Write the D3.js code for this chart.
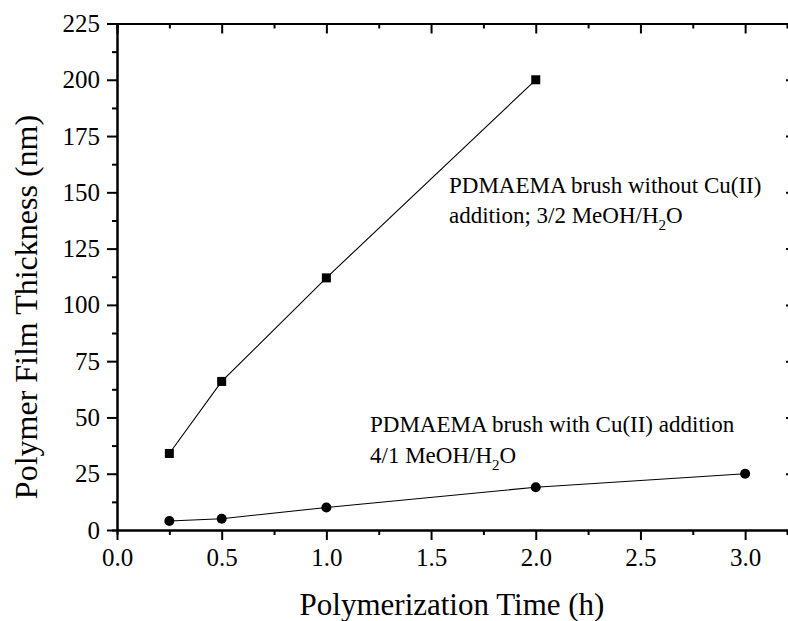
<!DOCTYPE html>
<html>
<head>
<meta charset="utf-8">
<script src="https://cdn.jsdelivr.net/npm/d3@7"></script>
<style>
  body { margin: 0; background: #fff; }
  svg { display: block; font-family: "Liberation Serif", "Times New Roman", serif; }
</style>
</head>
<body>
<div id="chart"></div>
<script>
// values
const timeNoCu = [0.25, 0.5, 1.0, 2.0]
const thickNoCu = [34, 66, 112, 200]
const timeCu = [0.25, 0.5, 1.0, 2.0, 3.0]
const thickCu = [4, 5, 10, 19, 25]
const xTicks = [0, 0.5, 1.0, 1.5, 2.0, 2.5, 3.0]
const yTicks = [0, 25, 50, 75, 100, 125, 150, 175, 200, 225]
const xMinor = [0.25, 0.75, 1.25, 1.75, 2.25, 2.75]
const yMinor = [12.5, 37.5, 62.5, 87.5, 112.5, 137.5, 162.5, 187.5, 212.5]

class ThicknessChart {

  constructor(_parentElement) {
    this.parentElement = _parentElement
    this.initVis()
  }

  initVis() {
    const vis = this
    vis.WIDTH = 788
    vis.HEIGHT = 621
    vis.LEFT = 117
    vis.RIGHT = 787
    vis.TOP = 23.5
    vis.BOTTOM = 530

    vis.svg = d3.select(vis.parentElement).append('svg')
      .attr('width', vis.WIDTH)
      .attr('height', vis.HEIGHT)

    vis.x = d3.scaleLinear().domain([0, 3.2]).range([vis.LEFT, vis.RIGHT])
    vis.y = d3.scaleLinear().domain([0, 225]).range([vis.BOTTOM, vis.TOP])

    vis.drawAxes()
    vis.drawSeries()
    vis.drawLabels()
  }

  styleAxis(g) {
    g.attr('font-family', null)
    g.selectAll('path.domain').attr('stroke', '#000').attr('stroke-width', 2)
    g.selectAll('.tick line').attr('stroke', '#000').attr('stroke-width', 2)
    g.selectAll('.tick text').attr('fill', '#000').style('font-size', '25px')
      .style('font-family', '"Liberation Serif", serif')
  }

  drawAxes() {
    const vis = this
    const fmtX = d3.format('.1f')

    // minor ticks first so the majors sit on top
    vis.svg.append('g').attr('transform', `translate(0, ${vis.BOTTOM})`)
      .call(d3.axisBottom(vis.x).tickValues(xMinor).tickSize(5).tickFormat(''))
      .call(g => vis.styleAxis(g))
    vis.svg.append('g').attr('transform', `translate(${vis.LEFT}, 0)`)
      .call(d3.axisLeft(vis.y).tickValues(yMinor).tickSize(5).tickFormat(''))
      .call(g => vis.styleAxis(g))
    vis.svg.append('g').attr('transform', `translate(0, ${vis.TOP})`)
      .call(d3.axisBottom(vis.x).tickValues(xMinor).tickSize(5).tickFormat(''))
      .call(g => vis.styleAxis(g))

    // bottom
    vis.svg.append('g').attr('transform', `translate(0, ${vis.BOTTOM})`)
      .call(d3.axisBottom(vis.x).tickValues(xTicks).tickSize(10).tickSizeOuter(0)
        .tickPadding(8).tickFormat(fmtX))
      .call(g => vis.styleAxis(g))

    // left
    vis.svg.append('g').attr('transform', `translate(${vis.LEFT}, 0)`)
      .call(d3.axisLeft(vis.y).tickValues(yTicks).tickSize(10).tickSizeOuter(0)
        .tickPadding(7))
      .call(g => vis.styleAxis(g))

    // top, ticks pointing in
    vis.svg.append('g').attr('transform', `translate(0, ${vis.TOP})`)
      .call(d3.axisBottom(vis.x).tickValues(xTicks).tickSize(10).tickSizeOuter(0).tickFormat(''))
      .call(g => vis.styleAxis(g))

    // right edge is cut by the picture, only stubs are left
    vis.svg.append('g').attr('transform', `translate(789, 0)`)
      .call(d3.axisLeft(vis.y).tickValues(yTicks).tickSize(3).tickSizeOuter(0).tickFormat(''))
      .call(g => vis.styleAxis(g))

    vis.svg.append('text')
      .attr('x', (vis.LEFT + vis.RIGHT) / 2)
      .attr('y', 615)
      .attr('text-anchor', 'middle')
      .style('font-size', '31px')
      .text('Polymerization Time (h)')

    vis.svg.append('text')
      .attr('transform', 'translate(37, 307) rotate(-90)')
      .attr('text-anchor', 'middle')
      .style('font-size', '32px')
      .text('Polymer Film Thickness (nm)')
  }

  drawSeries() {
    const vis = this
    const line = d3.line().x(d => vis.x(d[0])).y(d => vis.y(d[1]))

    const noCu = d3.zip(timeNoCu, thickNoCu)
    const cu = d3.zip(timeCu, thickCu)

    vis.svg.append('path').datum(noCu)
      .attr('d', line).attr('fill', 'none').attr('stroke', '#000').attr('stroke-width', 1.1)
    vis.svg.append('path').datum(cu)
      .attr('d', line).attr('fill', 'none').attr('stroke', '#000').attr('stroke-width', 1.1)

    const sq = 9
    vis.svg.selectAll('rect.sq').data(noCu).join('rect')
      .attr('class', 'sq')
      .attr('x', d => vis.x(d[0]) - sq / 2)
      .attr('y', d => vis.y(d[1]) - sq / 2)
      .attr('width', sq).attr('height', sq)
      .attr('fill', '#000')

    vis.svg.selectAll('circle.dot').data(cu).join('circle')
      .attr('class', 'dot')
      .attr('cx', d => vis.x(d[0]))
      .attr('cy', d => vis.y(d[1]))
      .attr('r', 5)
      .attr('fill', '#000')
  }

  drawLabels() {
    const vis = this
    const addLine = (x, y, parts) => {
      const t = vis.svg.append('text').attr('x', x).attr('y', y).style('font-size', '23px')
      parts.forEach(p => {
        if (p.sub) {
          t.append('tspan').attr('dy', 7).style('font-size', '15px').text(p.s)
        } else if (p.back) {
          t.append('tspan').attr('dy', -7).text(p.s)
        } else {
          t.append('tspan').text(p.s)
        }
      })
    }
    addLine(449, 193, [{ s: 'PDMAEMA brush without Cu(II)' }])
    addLine(449, 223, [{ s: 'addition; 3/2 MeOH/H' }, { s: '2', sub: true }, { s: 'O', back: true }])
    addLine(370, 432, [{ s: 'PDMAEMA brush with Cu(II) addition' }])
    addLine(370, 463, [{ s: '4/1 MeOH/H' }, { s: '2', sub: true }, { s: 'O', back: true }])
  }
}

new ThicknessChart('#chart')
</script>
</body>
</html>
